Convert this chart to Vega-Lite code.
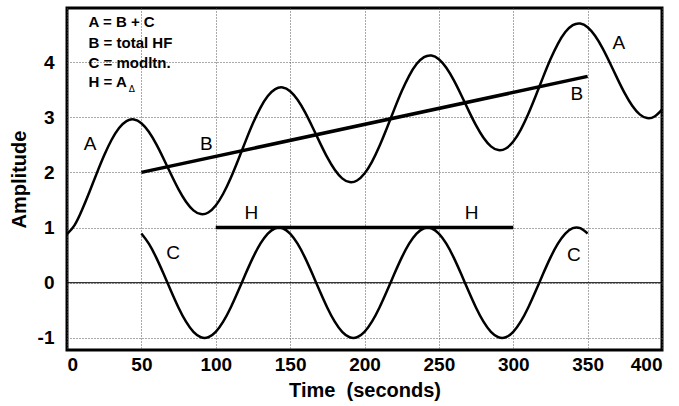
{
  "$schema": "https://vega.github.io/schema/vega-lite/v6.json",
  "width": 595,
  "height": 342,
  "autosize": "none",
  "padding": {"left": 67, "top": 8, "right": 17, "bottom": 56},
  "background": "white",
  "config": {
    "view": {"stroke": "black", "strokeWidth": 3},
    "font": "Liberation Sans"
  },
  "datasets": {
    "A": [
      {"t": 0, "v": 0.88}, {"t": 5, "v": 1.04}, {"t": 10, "v": 1.314}, {"t": 15, "v": 1.641},
      {"t": 20, "v": 1.982}, {"t": 25, "v": 2.309}, {"t": 30, "v": 2.591}, {"t": 35, "v": 2.804},
      {"t": 40, "v": 2.93}, {"t": 45, "v": 2.959}, {"t": 50, "v": 2.891}, {"t": 55, "v": 2.736},
      {"t": 60, "v": 2.512}, {"t": 65, "v": 2.243}, {"t": 70, "v": 1.96}, {"t": 75, "v": 1.691},
      {"t": 80, "v": 1.467}, {"t": 85, "v": 1.312}, {"t": 90, "v": 1.244}, {"t": 95, "v": 1.273},
      {"t": 100, "v": 1.399}, {"t": 105, "v": 1.612}, {"t": 110, "v": 1.894}, {"t": 115, "v": 2.221},
      {"t": 120, "v": 2.562}, {"t": 125, "v": 2.889}, {"t": 130, "v": 3.171}, {"t": 135, "v": 3.384},
      {"t": 140, "v": 3.51}, {"t": 145, "v": 3.539}, {"t": 150, "v": 3.471}, {"t": 155, "v": 3.316},
      {"t": 160, "v": 3.092}, {"t": 165, "v": 2.823}, {"t": 170, "v": 2.54}, {"t": 175, "v": 2.271},
      {"t": 180, "v": 2.047}, {"t": 185, "v": 1.892}, {"t": 190, "v": 1.824}, {"t": 195, "v": 1.853},
      {"t": 200, "v": 1.979}, {"t": 205, "v": 2.192}, {"t": 210, "v": 2.474}, {"t": 215, "v": 2.801},
      {"t": 220, "v": 3.142}, {"t": 225, "v": 3.469}, {"t": 230, "v": 3.751}, {"t": 235, "v": 3.964},
      {"t": 240, "v": 4.09}, {"t": 245, "v": 4.119}, {"t": 250, "v": 4.051}, {"t": 255, "v": 3.896},
      {"t": 260, "v": 3.672}, {"t": 265, "v": 3.403}, {"t": 270, "v": 3.12}, {"t": 275, "v": 2.851},
      {"t": 280, "v": 2.627}, {"t": 285, "v": 2.472}, {"t": 290, "v": 2.404}, {"t": 295, "v": 2.433},
      {"t": 300, "v": 2.559}, {"t": 305, "v": 2.772}, {"t": 310, "v": 3.054}, {"t": 315, "v": 3.381},
      {"t": 320, "v": 3.722}, {"t": 325, "v": 4.049}, {"t": 330, "v": 4.331}, {"t": 335, "v": 4.544},
      {"t": 340, "v": 4.67}, {"t": 345, "v": 4.699}, {"t": 350, "v": 4.631}, {"t": 355, "v": 4.476},
      {"t": 360, "v": 4.252}, {"t": 365, "v": 3.983}, {"t": 370, "v": 3.7}, {"t": 375, "v": 3.431},
      {"t": 380, "v": 3.207}, {"t": 385, "v": 3.052}, {"t": 390, "v": 2.984}, {"t": 395, "v": 3.013},
      {"t": 400, "v": 3.139}
    ],
    "C": [
      {"t": 50, "v": 0.891}, {"t": 55, "v": 0.707}, {"t": 60, "v": 0.454}, {"t": 65, "v": 0.156},
      {"t": 70, "v": -0.156}, {"t": 75, "v": -0.454}, {"t": 80, "v": -0.707}, {"t": 85, "v": -0.891},
      {"t": 90, "v": -0.988}, {"t": 95, "v": -0.988}, {"t": 100, "v": -0.891}, {"t": 105, "v": -0.707},
      {"t": 110, "v": -0.454}, {"t": 115, "v": -0.156}, {"t": 120, "v": 0.156}, {"t": 125, "v": 0.454},
      {"t": 130, "v": 0.707}, {"t": 135, "v": 0.891}, {"t": 140, "v": 0.988}, {"t": 145, "v": 0.988},
      {"t": 150, "v": 0.891}, {"t": 155, "v": 0.707}, {"t": 160, "v": 0.454}, {"t": 165, "v": 0.156},
      {"t": 170, "v": -0.156}, {"t": 175, "v": -0.454}, {"t": 180, "v": -0.707}, {"t": 185, "v": -0.891},
      {"t": 190, "v": -0.988}, {"t": 195, "v": -0.988}, {"t": 200, "v": -0.891}, {"t": 205, "v": -0.707},
      {"t": 210, "v": -0.454}, {"t": 215, "v": -0.156}, {"t": 220, "v": 0.156}, {"t": 225, "v": 0.454},
      {"t": 230, "v": 0.707}, {"t": 235, "v": 0.891}, {"t": 240, "v": 0.988}, {"t": 245, "v": 0.988},
      {"t": 250, "v": 0.891}, {"t": 255, "v": 0.707}, {"t": 260, "v": 0.454}, {"t": 265, "v": 0.156},
      {"t": 270, "v": -0.156}, {"t": 275, "v": -0.454}, {"t": 280, "v": -0.707}, {"t": 285, "v": -0.891},
      {"t": 290, "v": -0.988}, {"t": 295, "v": -0.988}, {"t": 300, "v": -0.891}, {"t": 305, "v": -0.707},
      {"t": 310, "v": -0.454}, {"t": 315, "v": -0.156}, {"t": 320, "v": 0.156}, {"t": 325, "v": 0.454},
      {"t": 330, "v": 0.707}, {"t": 335, "v": 0.891}, {"t": 340, "v": 0.988}, {"t": 345, "v": 0.988},
      {"t": 350, "v": 0.891}
    ],
    "B": [{"t": 50, "v": 2.0}, {"t": 350, "v": 3.74}],
    "H": [{"t": 100, "v": 1.0}, {"t": 300, "v": 1.0}],
    "labels": [
      {"t": 15.5, "v": 2.52, "txt": "A"},
      {"t": 371, "v": 4.35, "txt": "A"},
      {"t": 93.6, "v": 2.52, "txt": "B"},
      {"t": 342.8, "v": 3.43, "txt": "B"},
      {"t": 71.4, "v": 0.53, "txt": "C"},
      {"t": 340.7, "v": 0.5, "txt": "C"},
      {"t": 124, "v": 1.26, "txt": "H"},
      {"t": 272, "v": 1.26, "txt": "H"}
    ],
    "legend": [
      {"t": 14.5, "v": 4.72, "txt": "A = B + C"},
      {"t": 14.5, "v": 4.35, "txt": "B = total HF"},
      {"t": 14.5, "v": 3.99, "txt": "C = modltn."},
      {"t": 14.5, "v": 3.64, "txt": "H = A"}
    ],
    "zero": [{"v": 0}]
  },
  "encoding": {
    "x": {
      "field": "t", "type": "quantitative",
      "scale": {"domain": [0, 400], "nice": false, "zero": false},
      "axis": {
        "title": "Time\u00a0 (seconds)",
        "values": [0, 50, 100, 150, 200, 250, 300, 350, 400],
        "grid": true, "gridColor": "#555", "gridDash": [1, 2], "gridWidth": 1,
        "domain": false, "ticks": false,
        "labelFontSize": 19, "labelFontWeight": "bold", "labelColor": "black", "labelPadding": 5,
        "labelFont": "Liberation Sans",
        "titleFontSize": 20, "titleFontWeight": "bold", "titleColor": "black", "titlePadding": 6,
        "titleFont": "Liberation Sans"
      }
    },
    "y": {
      "field": "v", "type": "quantitative",
      "scale": {"domain": [-1.22, 4.98], "nice": false, "zero": false},
      "axis": {
        "title": "Amplitude",
        "values": [-1, 0, 1, 2, 3, 4],
        "labelExpr": "replace(datum.label, '\u2212', '-')",
        "grid": true, "gridColor": "#555", "gridDash": [1, 2], "gridWidth": 1,
        "domain": false, "ticks": false,
        "labelFontSize": 19, "labelFontWeight": "bold", "labelColor": "black", "labelPadding": 13,
        "labelFont": "Liberation Sans",
        "titleFontSize": 20, "titleFontWeight": "bold", "titleColor": "black", "titlePadding": 8,
        "titleFont": "Liberation Sans"
      }
    }
  },
  "layer": [
    {
      "data": {"name": "zero"},
      "mark": {"type": "rule", "color": "black", "strokeWidth": 1},
      "encoding": {"x": null}
    },
    {
      "data": {"name": "A"},
      "mark": {"type": "line", "color": "black", "strokeWidth": 2.5, "interpolate": "natural"}
    },
    {
      "data": {"name": "C"},
      "mark": {"type": "line", "color": "black", "strokeWidth": 2.5, "interpolate": "natural"}
    },
    {
      "data": {"name": "B"},
      "mark": {"type": "line", "color": "black", "strokeWidth": 3.5}
    },
    {
      "data": {"name": "H"},
      "mark": {"type": "line", "color": "black", "strokeWidth": 3.5}
    },
    {
      "data": {"name": "labels"},
      "mark": {"type": "text", "fontSize": 19, "font": "Liberation Sans", "color": "black", "align": "center", "baseline": "middle"},
      "encoding": {"text": {"field": "txt"}}
    },
    {
      "data": {"name": "legend"},
      "mark": {"type": "text", "fontSize": 15, "fontWeight": "bold", "font": "Liberation Sans", "color": "black", "align": "left", "baseline": "middle"},
      "encoding": {"text": {"field": "txt"}}
    },
    {
      "data": {"values": [{"t": 43.5, "v": 3.52, "txt": "\u0394"}]},
      "mark": {"type": "text", "fontSize": 9, "font": "DejaVu Sans", "color": "black", "align": "center", "baseline": "middle"},
      "encoding": {"text": {"field": "txt"}}
    }
  ]
}
